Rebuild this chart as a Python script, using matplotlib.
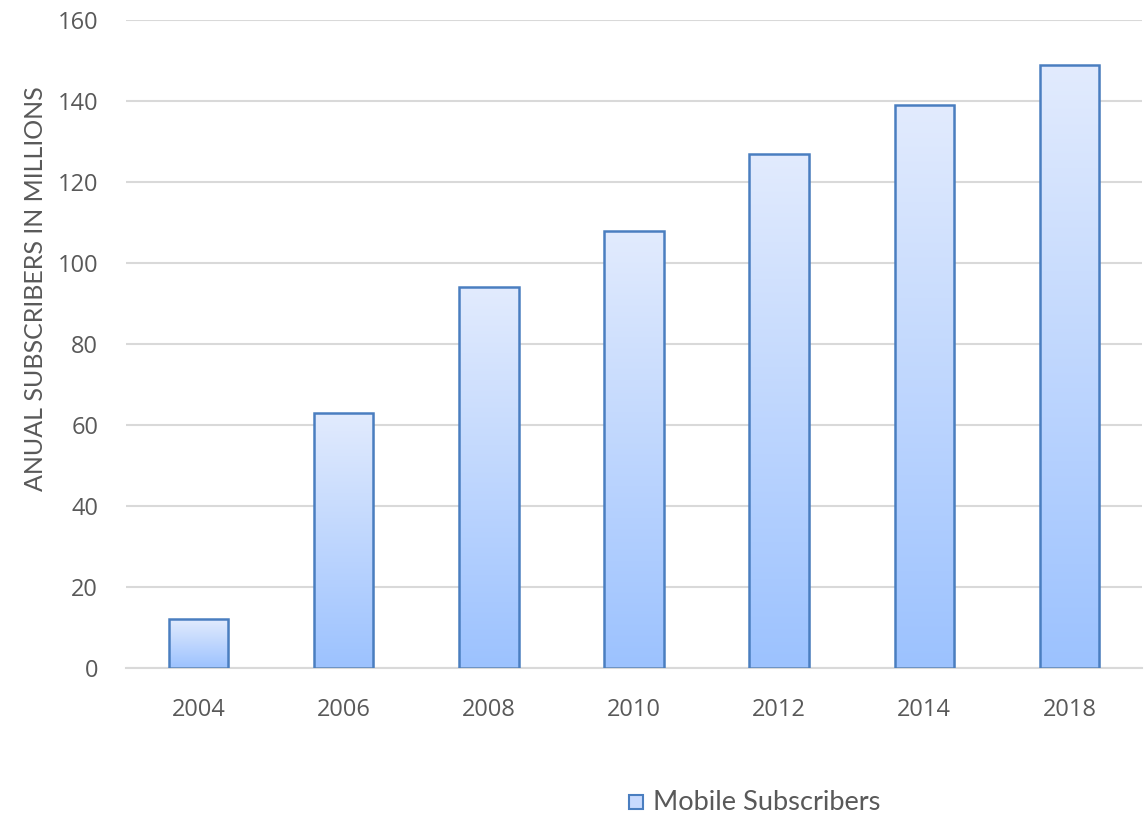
import matplotlib
matplotlib.use("Agg")
import matplotlib.pyplot as plt
import numpy as np
from matplotlib.patches import Rectangle
from matplotlib.colors import LinearSegmentedColormap

plt.rcParams["font.family"] = ["Open Sans", "DejaVu Sans"]

years = ["2004", "2006", "2008", "2010", "2012", "2014", "2018"]
subscribers = [12, 63, 94, 108, 127, 139, 149]
series_name = "Mobile Subscribers"
y_label = "ANUAL SUBSCRIBERS IN MILLIONS"
y_ticks = [0, 20, 40, 60, 80, 100, 120, 140, 160]

fig = plt.figure(figsize=(11.44, 8.15), dpi=100)
ax = fig.add_axes([126/1144, 1-668/815, (1142-126)/1144, (668-20)/815])

x = np.arange(len(years))
width = 0.41

cmap = LinearSegmentedColormap.from_list("g", ["#9CC2FF", "#E2EBFD"])
grad = np.linspace(0, 1, 256).reshape(-1, 1)
bars = ax.bar(x, subscribers, width=width, facecolor="none", edgecolor="#4A7EC0",
              linewidth=1.8, zorder=3)
for b in bars:
    x0, y0, w, h = b.get_x(), b.get_y(), b.get_width(), b.get_height()
    im = ax.imshow(grad, cmap=cmap, aspect="auto", origin="lower",
                   extent=[x0, x0+w, y0, y0+h], zorder=2, interpolation="bilinear")
    im.set_clip_path(b)
    sh = Rectangle((x0 + 0.012, y0), w, h, facecolor="#000000", alpha=0.06,
                   edgecolor="none", zorder=1.5)
    ax.add_patch(sh)
ax.set_xlim(-0.5, len(years)-0.5)
ax.set_ylim(0, 160)

ax.set_yticks(y_ticks)
ax.set_xticks(x)
ax.set_xticklabels(years)
ax.yaxis.grid(True, color="#D9D9D9", linewidth=1.5, zorder=0)
ax.set_axisbelow(True)
for s in ["top", "right", "left"]:
    ax.spines[s].set_visible(False)
ax.spines["bottom"].set_color("#D9D9D9")
ax.spines["bottom"].set_linewidth(1.5)
ax.tick_params(axis="both", length=0, labelsize=17, labelcolor="#595959")
ax.tick_params(axis="y", pad=20)
ax.tick_params(axis="x", pad=21.5)

fig.text(36/1144, 1-289/815, y_label, rotation=90, ha="center", va="center",
         fontsize=18, color="#595959", family="Lato")

# legend
lx, ly = 629, 795
fig.patches.append(Rectangle((lx/1144, 1-(ly+14)/815), 14/1144, 14/815,
                             transform=fig.transFigure, facecolor="#C8DAFE",
                             edgecolor="#4A7EC0", linewidth=1.5))
fig.text(653/1144, 1-802/815, series_name, ha="left", va="center",
         fontsize=19.6, color="#595959", family="Lato")

fig.savefig("out.png", dpi=100)
